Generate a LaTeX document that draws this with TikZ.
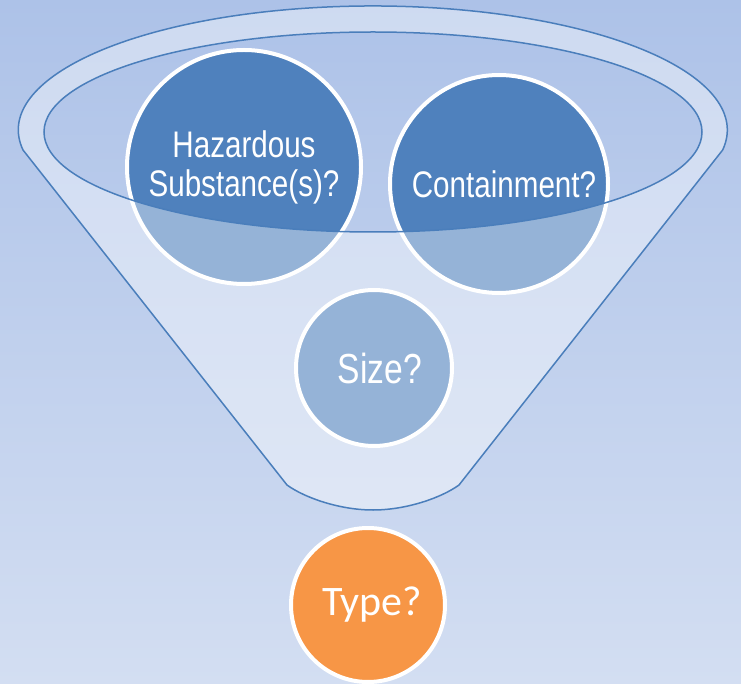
\documentclass[tikz,border=0pt]{standalone}
\usepackage{fontspec}
\setmainfont{Liberation Sans}
\newfontfamily\narrowfont[FakeStretch=0.8]{Liberation Sans}
\newfontfamily\typefont{Carlito}

\definecolor{qblue}{HTML}{4F81BD}
\definecolor{qorange}{HTML}{F79646}
\definecolor{qline}{HTML}{4A7EBB}
\definecolor{bgtop}{HTML}{ADC2E8}
\definecolor{bgbottom}{HTML}{D3DEF2}

\tikzset{
  question/.style={circle,draw=white,line width=4pt,fill=qblue,text=white,
    align=center,inner sep=0pt},
  qtext/.style={font=\narrowfont\fontsize{#1}{39}\selectfont}
}

\begin{document}
\begin{tikzpicture}[x=1pt,y=-1pt]
\useasboundingbox (0,0) rectangle (741,684);
% backdrop
\shade[top color=bgtop,bottom color=bgbottom] (0,0) rectangle (741,684);

% the questions that go into the funnel
\node[question,qtext=37,minimum size=234pt] (haz) at (244,167) {Hazardous\\Substance(s)?};
\node[question,qtext=37,minimum size=218pt] (cont) at (499,184) {\hspace{10pt}Containment?};
\node[question,qtext=42,minimum size=156pt] (size) at (374,368) {\hspace{12pt}Size?};

% funnel: rim and body, the mouth left open
\path[fill=white,fill opacity=0.4,draw=qline,line width=1.5pt,even odd rule]
  (23,150) arc[start angle=170.7,end angle=369.3,x radius=354.5,y radius=124]
  -- (459,485) .. controls (441,498) and (406,510) .. (373,510)
  .. controls (340,510) and (305,498) .. (287,485) -- cycle
  (373,132) ellipse[x radius=329,y radius=100];

% what comes out
\node[question,fill=qorange,minimum size=154pt,
  font=\typefont\fontsize{42}{48}\selectfont] (type) at (368,605) {\hspace{8pt}Type?};
\end{tikzpicture}
\end{document}
